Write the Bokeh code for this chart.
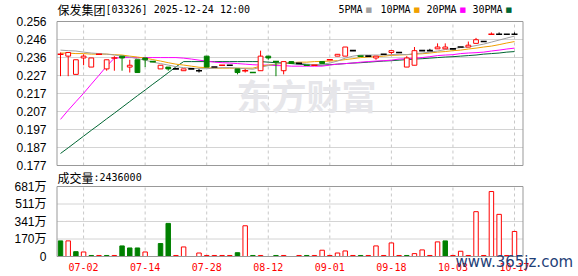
from bokeh.plotting import figure
from bokeh.models import ColumnDataSource, Range1d, FixedTicker, Label
from bokeh.embed import file_html
from bokeh.resources import INLINE
from bokeh.core.properties import value

# ---------------- data ----------------
date_slots = [3, 11, 19, 27, 35, 43, 51, 59]
date_labels = ["07-02", "07-14", "07-28", "08-12", "09-01", "09-18", "10-03", "10-17"]

opens = [0.238, 0.237, 0.227, 0.236, 0.231, 0.238, 0.230, 0.236, 0.237, 0.231,
         0.235, 0.236, 0.234, 0.230, 0.231, 0.230, 0.229, 0.230, 0.229, 0.237,
         0.231, 0.232, 0.232, 0.230, 0.229, 0.228, 0.229, 0.237, 0.234, 0.229,
         0.234, 0.233, 0.232, 0.232, 0.234, 0.235, 0.237, 0.237, 0.240, 0.237,
         0.237, 0.236, 0.238, 0.239, 0.239, 0.231, 0.232, 0.240, 0.240, 0.241,
         0.241, 0.241, 0.242, 0.242, 0.244, 0.245, 0.249, 0.249, 0.249, 0.249]
highs = [0.239, 0.239, 0.235, 0.238, 0.236, 0.238, 0.235, 0.237, 0.237, 0.235,
         0.235, 0.236, 0.234, 0.232, 0.231, 0.230, 0.230, 0.230, 0.230, 0.237,
         0.231, 0.232, 0.232, 0.230, 0.230, 0.228, 0.240, 0.237, 0.234, 0.234,
         0.234, 0.233, 0.232, 0.232, 0.234, 0.235, 0.238, 0.242, 0.240, 0.237,
         0.237, 0.237, 0.238, 0.240, 0.239, 0.237, 0.242, 0.240, 0.241, 0.244,
         0.244, 0.241, 0.242, 0.245, 0.247, 0.245, 0.250, 0.250, 0.249, 0.250]
lows = [0.226, 0.226, 0.227, 0.232, 0.231, 0.238, 0.229, 0.229, 0.229, 0.228,
        0.228, 0.231, 0.234, 0.230, 0.229, 0.230, 0.229, 0.230, 0.228, 0.231,
        0.231, 0.232, 0.232, 0.227, 0.228, 0.228, 0.229, 0.235, 0.226, 0.227,
        0.233, 0.233, 0.232, 0.232, 0.233, 0.235, 0.237, 0.237, 0.240, 0.237,
        0.237, 0.235, 0.238, 0.238, 0.239, 0.231, 0.232, 0.240, 0.240, 0.241,
        0.241, 0.241, 0.242, 0.242, 0.244, 0.245, 0.249, 0.249, 0.249, 0.249]
closes = [0.238, 0.239, 0.235, 0.237, 0.236, 0.238, 0.235, 0.236, 0.236, 0.232,
          0.228, 0.235, 0.234, 0.232, 0.230, 0.230, 0.230, 0.230, 0.229, 0.231,
          0.231, 0.232, 0.232, 0.228, 0.229, 0.228, 0.237, 0.236, 0.234, 0.234,
          0.233, 0.233, 0.232, 0.232, 0.233, 0.235, 0.238, 0.242, 0.240, 0.237,
          0.237, 0.237, 0.238, 0.240, 0.239, 0.236, 0.240, 0.240, 0.240, 0.242,
          0.242, 0.241, 0.242, 0.243, 0.246, 0.245, 0.249, 0.249, 0.249, 0.249]
candle_kind = ["r", "r", "r", "r", "r", "r", "r", "r", "g", "r",
               "g", "g", "g", "r", "g", "k", "r", "k", "k", "g",
               "k", "r", "k", "g", "r", "g", "r", "g", "g", "r",
               "g", "k", "g", "r", "g", "r", "r", "r", "k", "g",
               "k", "r", "k", "r", "k", "r", "r", "k", "k", "r",
               "r", "k", "k", "r", "r", "k", "r", "k", "k", "k"]

volumes = [152, 152, 47, 44, 10, 10, 10, 10, 103, 83,
           83, 44, 0, 126, 322, 10, 93, 0, 34, 10,
           10, 10, 10, 37, 299, 10, 10, 0, 10, 10,
           0, 10, 10, 10, 61, 10, 34, 54, 10, 10,
           10, 103, 10, 132, 10, 10, 28, 64, 10, 142,
           152, 10, 51, 10, 436, 10, 632, 410, 10, 243.6]
volume_kind = ["g", "r", "g", "r", "g", "r", "g", "r", "g", "g",
               "g", "r", "r", "g", "g", "r", "r", "r", "r", "r",
               "r", "r", "r", "g", "r", "g", "r", "r", "g", "r",
               "r", "r", "g", "r", "r", "r", "r", "r", "r", "g",
               "r", "r", "r", "r", "r", "g", "r", "r", "r", "r",
               "g", "r", "r", "r", "r", "r", "r", "r", "r", "r"]

ma5 = [0.2403, 0.2400, 0.2398, 0.2392, 0.2387, 0.2384, 0.2381, 0.2376, 0.2370, 0.2365,
       0.2356, 0.2348, 0.2337, 0.2329, 0.2321, 0.2312, 0.2307, 0.2304, 0.2301, 0.2301,
       0.2304, 0.2307, 0.2307, 0.2304, 0.2301, 0.2298, 0.2309, 0.2318, 0.2326, 0.2332,
       0.2334, 0.2332, 0.2326, 0.2323, 0.2326, 0.2332, 0.2343, 0.2359, 0.2370, 0.2376,
       0.2376, 0.2376, 0.2376, 0.2378, 0.2381, 0.2378, 0.2384, 0.2387, 0.2392, 0.2398,
       0.2406, 0.2411, 0.2417, 0.2420, 0.2428, 0.2436, 0.2447, 0.2458, 0.2469, 0.2480]
ma10 = [0.2387, 0.2387, 0.2384, 0.2384, 0.2381, 0.2381, 0.2381, 0.2378, 0.2376, 0.2370,
        0.2365, 0.2359, 0.2351, 0.2343, 0.2334, 0.2326, 0.2321, 0.2315, 0.2309, 0.2307,
        0.2304, 0.2304, 0.2304, 0.2304, 0.2304, 0.2304, 0.2315, 0.2321, 0.2326, 0.2332,
        0.2334, 0.2337, 0.2337, 0.2340, 0.2341, 0.2343, 0.2345, 0.2351, 0.2356, 0.2362,
        0.2365, 0.2367, 0.2370, 0.2374, 0.2376, 0.2378, 0.2381, 0.2383, 0.2387, 0.2392,
        0.2395, 0.2400, 0.2403, 0.2409, 0.2414, 0.2420, 0.2425, 0.2433, 0.2442, 0.2450]
ma20 = [0.2023, 0.2073, 0.2120, 0.2166, 0.2216, 0.2265, 0.2315, 0.2359, 0.2362, 0.2362,
        0.2362, 0.2362, 0.2362, 0.2362, 0.2362, 0.2362, 0.2359, 0.2354, 0.2348, 0.2343,
        0.2337, 0.2334, 0.2332, 0.2329, 0.2326, 0.2323, 0.2321, 0.2321, 0.2318, 0.2318,
        0.2315, 0.2315, 0.2315, 0.2315, 0.2315, 0.2321, 0.2326, 0.2329, 0.2332, 0.2337,
        0.2340, 0.2343, 0.2345, 0.2348, 0.2354, 0.2356, 0.2359, 0.2362, 0.2367, 0.2373,
        0.2376, 0.2378, 0.2384, 0.2387, 0.2389, 0.2392, 0.2398, 0.2403, 0.2409, 0.2414]
ma30 = [0.1836, 0.1867, 0.1899, 0.1931, 0.1963, 0.1994, 0.2026, 0.2057, 0.2089, 0.2121,
        0.2153, 0.2184, 0.2216, 0.2247, 0.2279, 0.2311, 0.2340, 0.2340, 0.2340, 0.2340,
        0.2340, 0.2340, 0.2340, 0.2340, 0.2340, 0.2340, 0.2340, 0.2337, 0.2334, 0.2332,
        0.2329, 0.2326, 0.2323, 0.2321, 0.2321, 0.2323, 0.2326, 0.2329, 0.2332, 0.2334,
        0.2337, 0.2340, 0.2343, 0.2345, 0.2348, 0.2351, 0.2354, 0.2356, 0.2359, 0.2362,
        0.2365, 0.2367, 0.2370, 0.2373, 0.2376, 0.2381, 0.2384, 0.2387, 0.2392, 0.2395]

price_ticks = [0.177, 0.186875, 0.19675, 0.206625, 0.2165, 0.226375, 0.23625, 0.246125, 0.256]
price_tick_labels = ["0.177", "0.187", "0.197", "0.207", "0.217", "0.227", "0.236", "0.246", "0.256"]
volume_ticks = [0, 170.25, 340.5, 510.75, 681]
volume_tick_labels = ["0", "170万", "341万", "511万", "681万"]

title_name = "保发集团"
title_rest = "[03326] 2025-12-24 12:00"
volume_title = "成交量"
volume_title_rest = ":2436000"
ma_names = ["5PMA", "10PMA", "20PMA", "30PMA"]
watermark = "东方财富"
site_mark = "www.365jz.com"

# ---------------- styling / layout constants ----------------
W, H = 578, 276
RED = "#ff0000"
GREEN = "#008000"
BLACK = "#000000"
kind_color = {"r": RED, "g": GREEN, "k": BLACK}
ma_colors = ["#a0a0a0", "#f0a000", "#ff00ff", "#006633"]
GRID = "#d4d4d4"
VGRID = "#c8c8c8"
BORDER = "#999999"
CJK = "Noto Sans CJK SC"
MONO = "DejaVu Sans Mono"
AXF = "Liberation Sans, Noto Sans CJK SC"

SLOT_PX = 7.695           # pixel distance between two trading slots
X0_PX = 60.0              # pixel x of slot 0
FRAME_L = 55
BORDER_L, BORDER_R = 56.5, 522.5

P_TOP_PX, P_BOT_PX = 21, 165      # page y of 0.256 and 0.177
V_TOP_PX, V_BOT_PX = 186, 256     # page y of 681万 and 0


def px_to_slot(px):
    return (px - X0_PX) / SLOT_PX


p_per_px = (price_ticks[-1] - price_ticks[0]) / (P_BOT_PX - P_TOP_PX)
v_per_px = volume_ticks[-1] / (V_BOT_PX - V_TOP_PX)


def price_at_page(y):
    return price_ticks[-1] + (P_TOP_PX - y) * p_per_px


def vol_at_page(y):
    return (V_BOT_PX - y) * v_per_px


n = len(opens)
xs = list(range(n))
bl, br = px_to_slot(BORDER_L), px_to_slot(BORDER_R)

p = figure(width=W, height=H,
           x_range=Range1d(px_to_slot(FRAME_L), px_to_slot(W)),
           y_range=Range1d(price_at_page(H), price_at_page(0)),
           output_backend="svg", toolbar_location=None, x_axis_location=None)
p.extra_y_ranges = {"vol": Range1d(vol_at_page(H), vol_at_page(0))}
p.outline_line_color = None
p.background_fill_color = "white"
p.border_fill_color = "white"
p.min_border_left = FRAME_L
p.min_border_right = 0
p.min_border_top = 0
p.min_border_bottom = 0
for g in p.grid:
    g.visible = False

# one left axis carries both panels' tick labels
vol_tick_pos = [price_at_page(V_BOT_PX - v / v_per_px) for v in volume_ticks]
all_ticks = price_ticks + vol_tick_pos
overrides = {t: s for t, s in zip(price_ticks, price_tick_labels)}
overrides.update({t: s for t, s in zip(vol_tick_pos, volume_tick_labels)})
p.yaxis.ticker = FixedTicker(ticks=all_ticks)
p.yaxis.major_label_overrides = overrides
p.yaxis.axis_line_color = None
p.yaxis.major_tick_line_color = None
p.yaxis.minor_tick_line_color = None
p.yaxis.major_label_standoff = 3
p.yaxis.major_label_text_font = AXF
p.yaxis.major_label_text_font_size = "12px"
p.yaxis.major_label_text_color = "#000000"


def panel_grid(ticks, rng):
    inner = ticks[1:-1]
    p.segment(x0=[bl] * len(inner), x1=[br] * len(inner), y0=inner, y1=inner,
              line_color=GRID, line_width=1, level="underlay", y_range_name=rng)
    p.segment(x0=date_slots, x1=date_slots, y0=[ticks[0]] * len(date_slots),
              y1=[ticks[-1]] * len(date_slots), line_color=VGRID, line_width=1,
              line_dash="3 3", level="underlay", y_range_name=rng)


def border(lo, hi, rng):
    p.quad(left=[bl], right=[br], bottom=[lo], top=[hi], fill_color=None,
           line_color=BORDER, line_width=1, y_range_name=rng)


def label(x, y, text, font, size, color="#000000", **kw):
    p.add_layout(Label(x=x, y=y, x_units="canvas", y_units="canvas", text=text,
                       text_font=font, text_font_size=size, text_color=color,
                       text_baseline="middle", **kw))


# ---------------- price panel ----------------
panel_grid(price_ticks, "default")
label(236, 94, watermark, CJK, "35px", "#e6e6ea", text_font_style="bold", level="underlay")

for vals, col in zip([ma30, ma20, ma10, ma5], ma_colors[::-1]):
    p.line(xs, vals, line_color=col, line_width=1)

src = ColumnDataSource(dict(
    x=xs, o=opens, h=highs, l=lows, c=closes,
    top=[max(a, b) for a, b in zip(opens, closes)],
    bottom=[min(a, b) for a, b in zip(opens, closes)],
    color=[kind_color[k] for k in candle_kind],
    fill=[GREEN if k == "g" else "white" for k in candle_kind],
))
body_idx = [i for i in xs if opens[i] != closes[i]]
flat_idx = [i for i in xs if opens[i] == closes[i]]
body = ColumnDataSource({k: [v[i] for i in body_idx] for k, v in src.data.items()})
flat = ColumnDataSource({k: [v[i] for i in flat_idx] for k, v in src.data.items()})
p.segment(x0="x", y0="l", x1="x", y1="h", line_color="color", line_width=1, source=src)
p.vbar(x="x", top="top", bottom="bottom", width=0.62, fill_color="fill",
       line_color="color", line_width=1, source=body)
p.scatter(x="x", y="o", marker="dash", size=6, line_color="color", line_width=1.6, source=flat)
border(price_ticks[0], price_ticks[-1], "default")

label(57, 9, title_name, CJK, "12px")
label(105, 9, title_rest, MONO, "10px")
legend_x = [338, 380, 426, 472]
for lx, name, col in zip(legend_x, ma_names, ma_colors):
    label(lx, 9, name, MONO, "10px")
    label(lx + 6 * len(name) + 3, 9, "■", "DejaVu Sans", "7px", col)

# ---------------- volume panel ----------------
panel_grid(volume_ticks, "vol")
vidx = [i for i in xs if volumes[i] > 0]
vsrc = ColumnDataSource(dict(
    x=vidx, v=[volumes[i] for i in vidx],
    color=[kind_color[volume_kind[i]] for i in vidx],
    fill=[GREEN if volume_kind[i] == "g" else "white" for i in vidx],
))
p.vbar(x="x", top="v", bottom=0, width=0.58, fill_color="fill", line_color="color",
       line_width=1, source=vsrc, y_range_name="vol")
border(volume_ticks[0], volume_ticks[-1], "vol")

date_y = vol_at_page(266)
p.text(x=date_slots, y=[date_y] * len(date_slots), text=date_labels,
       text_color=RED, text_font=value(MONO), text_font_size="10px",
       text_align="center", text_baseline="middle", y_range_name="vol")

label(57, 177, volume_title, CJK, "12px")
label(93, 177, volume_title_rest, MONO, "10px")
label(455, 261, site_mark, "DejaVu Sans", "15px", "#1f3f78")

open("out.html", "w").write(file_html(p, INLINE))
